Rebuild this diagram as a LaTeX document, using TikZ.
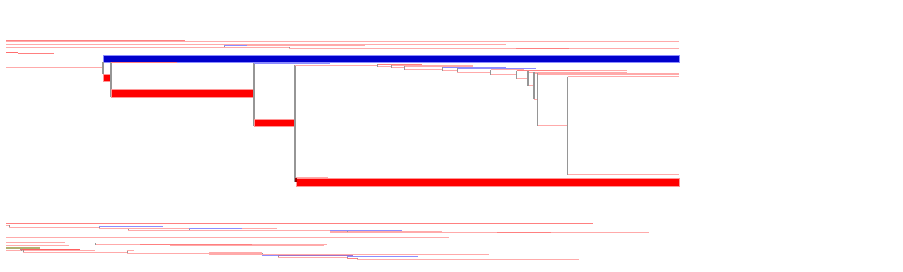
\documentclass[tikz,border=0pt]{standalone}
\definecolor{lredc}{RGB}{255,170,170}
\definecolor{mredc}{RGB}{255,128,128}
\definecolor{sredc}{RGB}{255,96,96}
\definecolor{lbluec}{RGB}{140,140,255}
\definecolor{pbluec}{RGB}{160,112,200}
\definecolor{grayc}{RGB}{150,150,150}
\definecolor{barred}{RGB}{255,0,0}
\definecolor{barredo}{RGB}{255,150,150}
\definecolor{barblue}{RGB}{0,0,204}
\definecolor{dredc}{RGB}{150,0,0}
\definecolor{boxred}{RGB}{255,110,110}
\definecolor{olivec}{RGB}{176,176,112}
\begin{document}
\begin{tikzpicture}[x=1pt,y=-1pt,line width=1pt,
  lr/.style={draw=lredc},
  mr/.style={draw=mredc},
  lb/.style={draw=lbluec},
  pb/.style={draw=pbluec},
  gv/.style={draw=grayc,line width=1.1pt},
  gt/.style={draw=grayc,line width=0.8pt},
  rbar/.style={fill=barred,draw=barredo,line width=0.5pt},
  bbar/.style={fill=barblue,draw=lbluec,line width=0.8pt}]
\useasboundingbox (0,0) rectangle (903,272);
% ---------- top loose lines ----------
\draw[lr] (6,41.3) -- (679,41.3);
\draw[mr] (6,40.5) -- (185,40.5);
\draw[lr] (6,45) -- (506,45);
\draw[lr] (6,47.5) -- (224,47.5);
\draw[gt] (224,45.8) -- (224,47.8);
\draw[lb] (224,45.8) -- (247,45.8);
\draw[lr] (247,46) -- (365,46);
\draw[lr] (224,47.8) -- (289,47.8);
\draw[gt] (289,47.3) -- (289,49);
\draw[lr] (289,49) -- (679,49);
\draw[mr] (516,48.8) -- (569,48.8);
\fill[boxred] (6,51.8) rectangle (18,53.5);
\draw[mr] (18,54) -- (54,54);
% ---------- main tree ----------
\draw[bbar] (103,55) rectangle (679,62.3);
\draw[lr] (6,68) -- (103,68);
\draw[gv] (103,62.3) -- (103,74.3);
\draw[rbar] (103,74.3) rectangle (111,81.7);
\draw[gv] (111,62.3) -- (111,97);
\draw[mr] (111,62.8) -- (177,62.8);
\draw[rbar] (111,89.3) rectangle (254,97);
\draw[gv] (254,63) -- (254,126.3);
\draw[lb] (254,63.5) -- (330,63.5);
\draw[rbar] (254,119) rectangle (295,126.3);
\draw[gv] (295,65.5) -- (295,182);
\draw[lr] (295,65.5) -- (377,65.5);
\draw[lr] (296,177.5) -- (328,177.5);
\draw[rbar] (296,178.3) rectangle (679,186);
\fill[dredc] (295,178.3) rectangle (297,182.5);
% caterpillar chain
\draw[mr] (377,64.5) -- (422,64.5);
\draw[lr] (391,65.7) -- (473,65.7);
\draw[lr] (404,66.7) -- (473,66.7);
\draw[lb] (442,67.7) -- (506,67.7);
\draw[lb] (457,68.7) -- (536,68.7);
\draw[lr] (490.7,70) -- (524,70);
\draw[lr] (516.7,70.7) -- (627,70.7);
\draw[mr] (516.7,70.9) -- (580,70.9);
\draw[lr] (528,72.3) -- (627,72.3);
\draw[lr] (534,73.3) -- (679,73.3);
\draw[lr] (537.7,74.5) -- (679,74.5);
\draw[lr] (567.7,76.7) -- (679,76.7);
\draw[lr] (567.7,175) -- (679,175);
% lower branches
\draw[lr] (377,67) -- (391,67);
\draw[lr] (391,68) -- (404,68);
\draw[lr] (404,69.7) -- (442,69.7);
\draw[lr] (442,71) -- (457,71);
\draw[lr] (457,72.3) -- (490.7,72.3);
\draw[lr] (490.7,74.7) -- (516.7,74.7);
\draw[lr] (516.7,79) -- (528,79);
\draw[lr] (528,86) -- (534,86);
\draw[lr] (534,99.3) -- (537.7,99.3);
\draw[lr] (537.7,126) -- (567.7,126);
% verticals
\draw[gt] (377,64.3) -- (377,67);
\draw[gt] (391,65.5) -- (391,68);
\draw[gt] (404,66.5) -- (404,69.7);
\draw[gt] (442,67.5) -- (442,71);
\draw[gt] (457,68.5) -- (457,72.3);
\draw[gv] (490.7,70) -- (490.7,74.7);
\draw[gv] (516.7,70.7) -- (516.7,79);
\draw[gv] (528,71.3) -- (528,86);
\draw[gv] (534,72) -- (534,99.3);
\draw[gv] (537.7,73) -- (537.7,126);
\draw[gv] (567.7,76.7) -- (567.7,175);
% ---------- bottom group ----------
\draw[mr] (6,223.3) -- (593,223.3);
\draw[lr] (6,225.5) -- (9,225.5);
\draw[gt] (9,225.3) -- (9,227.7);
\draw[lr] (9,227.7) -- (99,227.7);
\draw[gt] (99,226.7) -- (99,229);
\draw[lb] (99,226.7) -- (163,226.7);
\draw[lr] (99,229) -- (128,229);
\draw[gt] (128,228.7) -- (128,230.3);
\draw[lr] (128,229) -- (277,229);
\draw[lr] (128,230.3) -- (189,230.3);
\draw[gt] (189,228.3) -- (189,230.7);
\draw[lb] (189,228.3) -- (242,228.3);
\draw[lr] (189,230.7) -- (330,230.7);
\draw[gt] (330,230.3) -- (330,232.3);
\draw[lr] (330,231.3) -- (442,231.3);
\draw[lb] (330,230.5) -- (402,230.5);
\draw[lr] (330,232.3) -- (347,232.3);
\draw[gt] (347,231.5) -- (347,233);
\draw[lr] (347,232.7) -- (649,232.7);
\draw[mr] (497,232.7) -- (551,232.7);
\draw[lr] (6,238) -- (449,238);
\draw[lr] (6,243) -- (65,243);
\draw[lr] (95,244.3) -- (327,244.3);
\draw[mr] (140,244.3) -- (252,244.3);
\draw[gt] (95,243.5) -- (95,245);
\draw[lr] (6,245.8) -- (69,245.8);
\draw[lr] (170,246) -- (324,246);
\draw[draw=olivec,line width=1.2pt] (6,248) -- (40,248);
\draw[draw=sredc] (20,249.3) -- (80,249.3);
\draw[lr] (6,250.5) -- (95,250.5);
\draw[gt] (21,249.5) -- (21,251.5);
\draw[gt] (23,250.5) -- (23,252.7);
\draw[lr] (23,252.7) -- (127,252.7);
\draw[gt] (127,251) -- (127,254);
\draw[lr] (127,251) -- (134,251);
\draw[lr] (127,253.7) -- (209,253.7);
\draw[gt] (209,252.3) -- (209,254.3);
\draw[lr,line width=1.5pt] (209,252.8) -- (262,252.8);
\draw[lr] (209,254.3) -- (262,254.3);
\draw[gt] (262,253.5) -- (262,256);
\draw[lr] (262,254.3) -- (489,254.3);
\draw[lb] (262,255.7) -- (278,255.7);
\draw[gt] (278,255) -- (278,258);
\draw[pb] (278,255.3) -- (353,255.3);
\draw[lr] (278,257.5) -- (347,257.5);
\draw[gt] (347,256.5) -- (347,258.5);
\draw[lb] (347,257) -- (418,257);
\draw[mr] (347,258.2) -- (357,258.2);
\draw[gt] (357,258) -- (357,260);
\draw[lr] (357,259.5) -- (579,259.5);
\end{tikzpicture}
\end{document}
